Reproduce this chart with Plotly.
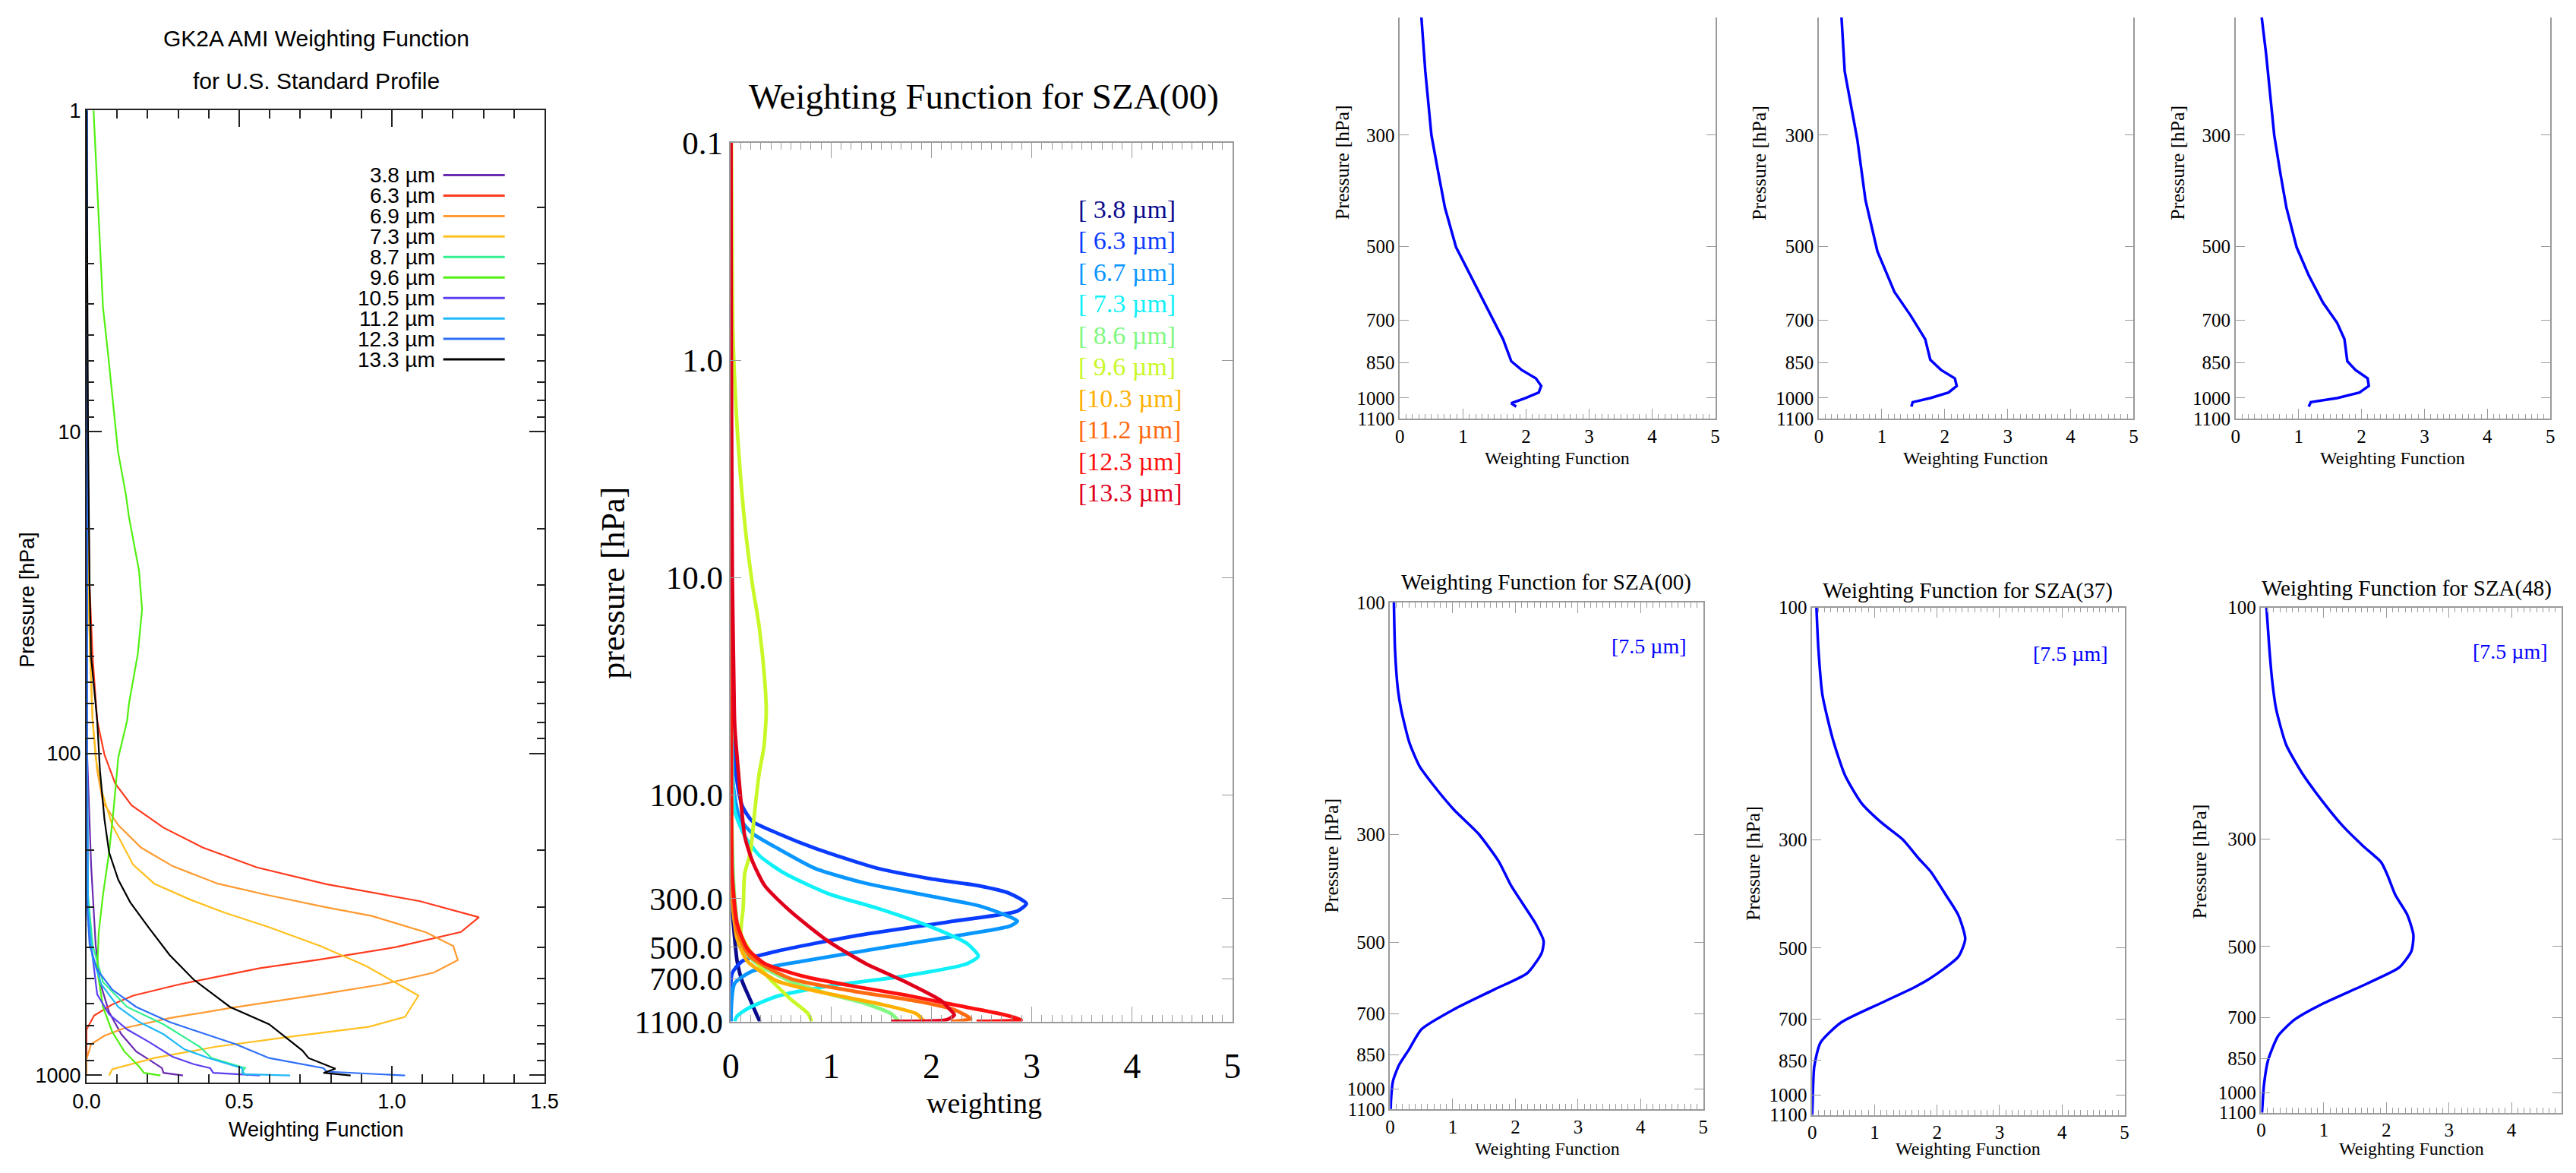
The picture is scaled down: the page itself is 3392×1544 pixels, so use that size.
import math
import plotly.graph_objects as go

W, H = 3392, 1544
SANS = "Liberation Sans Narrow, Arial Narrow, Liberation Sans, Arial, sans-serif"
SERIF = "Liberation Serif, Times New Roman, serif"

# ---------------- Panel A : GK2A AMI weighting functions (U.S. Standard Profile) ----------------
A_LABELS = ["3.8 µm", "6.3 µm", "6.9 µm", "7.3 µm", "8.7 µm", "9.6 µm", "10.5 µm", "11.2 µm", "12.3 µm", "13.3 µm"]
A_COLORS = ["#6a2bb0", "#ff3b1f", "#ff9a30", "#ffc020", "#30f090", "#50f010", "#5a40f0", "#20b8f8", "#2f6ff8", "#000000"]

A_P_038 = [1, 100, 222, 394, 514, 637, 746, 845, 893, 951, 984, 1003]
A_W_038 = [0.002, 0.002, 0.015, 0.030, 0.044, 0.074, 0.114, 0.163, 0.203, 0.247, 0.252, 0.316]
A_P_063 = [1, 10, 30, 50, 79, 101, 124, 145, 170, 196, 226, 255, 288, 323, 359, 400, 437, 465, 523, 566, 603, 653, 721, 1000]
A_W_063 = [0.0, 0.003, 0.01, 0.02, 0.035, 0.059, 0.094, 0.148, 0.252, 0.380, 0.558, 0.786, 1.092, 1.285, 1.226, 1.013,
           0.766, 0.568, 0.301, 0.153, 0.084, 0.025, 0.0, 0.0]
A_P_069 = [1, 10, 30, 50, 79, 113, 142, 167, 196, 224, 254, 275, 301, 320, 360, 397, 439, 480, 523, 561, 619, 665, 714,
           754, 802, 893, 1000]
A_W_069 = [0.0, 0.002, 0.006, 0.012, 0.020, 0.035, 0.054, 0.104, 0.178, 0.282, 0.430, 0.588, 0.786, 0.934, 1.112, 1.201,
           1.216, 1.137, 0.964, 0.766, 0.470, 0.272, 0.124, 0.059, 0.015, 0.0, 0.0]
A_P_073 = [1, 10, 30, 50, 79, 103, 130, 167, 222, 254, 285, 312, 347, 397, 457, 566, 659, 708, 760, 817, 885, 959, 1003]
A_W_073 = [0.0, 0.002, 0.006, 0.012, 0.02, 0.030, 0.049, 0.084, 0.153, 0.222, 0.341, 0.450, 0.598, 0.766, 0.914, 1.087,
           1.043, 0.924, 0.667, 0.420, 0.222, 0.084, 0.074]
A_P_087 = [1, 100, 275, 394, 514, 614, 695, 817, 885, 951, 979, 1003]
A_W_087 = [0.002, 0.002, 0.005, 0.020, 0.054, 0.133, 0.252, 0.371, 0.410, 0.519, 0.509, 0.529]
A_P_096 = [1, 4.1, 5.9, 11.5, 15.7, 18.4, 27, 35.6, 49, 70, 79, 103, 148, 203, 275, 360, 470, 614, 733, 845, 942, 984, 1003]
A_W_096 = [0.023, 0.054, 0.072, 0.103, 0.129, 0.139, 0.172, 0.182, 0.168, 0.139, 0.133, 0.104, 0.089, 0.074, 0.054,
           0.040, 0.035, 0.054, 0.084, 0.124, 0.173, 0.188, 0.242]
A_P_105 = [1, 100, 329, 561, 647, 721, 787, 877, 925, 951, 984, 1003]
A_W_105 = [0.002, 0.002, 0.005, 0.035, 0.074, 0.133, 0.203, 0.282, 0.351, 0.405, 0.415, 0.568]
A_P_112 = [1, 100, 301, 430, 523, 614, 684, 746, 832, 885, 951, 993, 1003]
A_W_112 = [0.002, 0.002, 0.005, 0.020, 0.049, 0.104, 0.173, 0.252, 0.321, 0.400, 0.509, 0.514, 0.667]
A_P_123 = [1, 100, 275, 394, 470, 542, 614, 684, 746, 802, 885, 916, 951, 975, 1003]
A_W_123 = [0.002, 0.002, 0.0, 0.010, 0.035, 0.084, 0.163, 0.272, 0.390, 0.489, 0.598, 0.687, 0.776, 0.786, 1.043]
A_P_133 = [1, 10, 30, 50, 79, 113, 161, 203, 247, 290, 347, 423, 505, 614, 695, 839, 885, 955, 984, 1003]
A_W_133 = [0.0, 0.005, 0.01, 0.015, 0.035, 0.044, 0.059, 0.074, 0.104, 0.143, 0.203, 0.272, 0.351, 0.470, 0.598, 0.707,
           0.727, 0.815, 0.776, 0.865]
A_P = [A_P_038, A_P_063, A_P_069, A_P_073, A_P_087, A_P_096, A_P_105, A_P_112, A_P_123, A_P_133]
A_W = [A_W_038, A_W_063, A_W_069, A_W_073, A_W_087, A_W_096, A_W_105, A_W_112, A_W_123, A_W_133]
A_YTICKS = [1, 10, 100, 1000]

# ---------------- Panel B : Weighting Function for SZA(00), 10 channels ----------------
B_LABELS = ["[ 3.8 µm]", "[ 6.3 µm]", "[ 6.7 µm]", "[ 7.3 µm]", "[ 8.6 µm]", "[ 9.6 µm]",
            "[10.3 µm]", "[11.2 µm]", "[12.3 µm]", "[13.3 µm]"]
B_COLORS = ["#0a0a8c", "#0a3cff", "#0a96ff", "#10f0f8", "#80f880", "#c8f828", "#ffb000", "#ff6a10", "#ff1010", "#e0001c"]
B_P_038 = [0.1, 100, 300, 390, 581, 718, 865, 1040, 1100]
B_W_038 = [0.0, 0.0, 0.005, 0.025, 0.063, 0.113, 0.189, 0.264, 0.290]
B_P_063 = [0.1, 1, 10, 30, 47, 79, 112, 132, 150, 176, 218, 242, 262, 284, 316, 342, 380, 446, 522, 581, 662, 1100]
B_W_063 = [0.0, 0.002, 0.005, 0.01, 0.013, 0.050, 0.113, 0.214, 0.466, 0.843, 1.473, 1.976, 2.480, 2.782, 2.946, 2.857,
           2.228, 1.221, 0.466, 0.113, 0.013, 0.0]
B_P_067 = [0.1, 10, 50, 91, 128, 150, 176, 218, 255, 291, 324, 380, 401, 446, 508, 581, 646, 736, 1100]
B_W_067 = [0.0, 0.002, 0.01, 0.025, 0.088, 0.214, 0.466, 0.843, 1.347, 1.976, 2.480, 2.857, 2.782, 2.228, 1.473, 0.718,
           0.214, 0.038, 0.0]
B_P_073 = [0.1, 10, 60, 118, 154, 191, 230, 284, 333, 401, 482, 551, 597, 681, 757, 841, 962, 1040, 1100]
B_W_073 = [0.0, 0.002, 0.01, 0.038, 0.138, 0.290, 0.541, 0.969, 1.473, 1.976, 2.354, 2.467, 2.354, 1.725, 0.969, 0.466,
           0.164, 0.063, 0.038]
B_P_086 = [0.1, 10, 100, 299, 508, 597, 718, 820, 912, 1014, 1100]
B_W_086 = [0.0, 0.002, 0.005, 0.038, 0.113, 0.264, 0.592, 0.969, 1.347, 1.599, 1.674]
B_P_096 = [0.1, 0.62, 1.0, 2.6, 6.1, 10.8, 17, 30, 42, 60, 79, 104, 118, 186, 230, 329, 437, 508, 662, 864, 1010, 1100]
B_W_096 = [0.005, 0.018, 0.03, 0.078, 0.147, 0.216, 0.284, 0.339, 0.353, 0.330, 0.284, 0.252, 0.239, 0.193, 0.138,
           0.124, 0.101, 0.176, 0.34, 0.59, 0.768, 0.806]
B_P_103 = [0.1, 10, 100, 299, 457, 581, 718, 820, 912, 1014, 1100]
B_W_103 = [0.0, 0.002, 0.005, 0.013, 0.063, 0.164, 0.466, 0.969, 1.473, 1.850, 1.926]
B_P_112 = [0.1, 10, 100, 262, 423, 551, 698, 798, 887, 973, 1069, 1100]
B_W_112 = [0.0, 0.002, 0.005, 0.013, 0.063, 0.189, 0.592, 1.221, 1.850, 2.228, 2.392, 2.2]
B_P_123 = [0.1, 10, 100, 230, 390, 508, 597, 681, 757, 830, 923, 1026, 1081, 1100]
B_W_123 = [0.0, 0.002, 0.005, 0.013, 0.063, 0.164, 0.340, 0.718, 1.221, 1.725, 2.228, 2.732, 2.895, 2.45]
B_P_133 = [0.1, 1, 10, 30, 47, 79, 154, 201, 262, 342, 470, 597, 718, 887, 962, 1026, 1081, 1100]
B_W_133 = [0.0, 0.005, 0.015, 0.03, 0.038, 0.076, 0.138, 0.214, 0.340, 0.592, 0.969, 1.347, 1.725, 2.102, 2.178, 2.228,
           2.153, 1.60]
B_P = [B_P_038, B_P_063, B_P_067, B_P_073, B_P_086, B_P_096, B_P_103, B_P_112, B_P_123, B_P_133]
B_W = [B_W_038, B_W_063, B_W_067, B_W_073, B_W_086, B_W_096, B_W_103, B_W_112, B_W_123, B_W_133]
B_YTICKS = [0.1, 1, 10, 100, 300, 500, 700, 1100]
B_YTEXT = ["0.1", "1.0", "10.0", "100.0", "300.0", "500.0", "700.0", "1100.0"]

# ---------------- Panels C : six single-channel panels ----------------
C_TL_P = [140, 164, 224, 300, 357, 418, 501, 570, 635, 764, 845, 879, 914, 946, 975, 1000, 1024, 1040]
C_TL_W = [0.31, 0.325, 0.403, 0.50, 0.61, 0.714, 0.89, 1.117, 1.312, 1.636, 1.766, 1.929, 2.156, 2.240, 2.201, 1.994,
          1.766, 1.844]
C_TM_P = [140, 164, 224, 306, 404, 511, 615, 686, 764, 839, 879, 914, 946, 975, 1000, 1019, 1040]
C_TM_W = [0.33, 0.346, 0.41, 0.61, 0.74, 0.93, 1.20, 1.46, 1.69, 1.77, 1.94, 2.16, 2.19, 2.06, 1.77, 1.49, 1.47]
C_TR_P = [140, 164, 207, 300, 357, 418, 501, 570, 646, 709, 764, 845, 879, 914, 946, 975, 1000, 1019, 1040]
C_TR_W = [0.37, 0.387, 0.484, 0.613, 0.71, 0.806, 0.968, 1.161, 1.387, 1.613, 1.729, 1.774, 1.903, 2.097, 2.116, 1.968,
          1.613, 1.194, 1.161]
C_BL_P = [98, 125, 151, 166, 194, 217, 238, 267, 299, 341, 382, 457, 497, 526, 578, 624, 686, 754, 828, 893, 963, 1059, 1100]
C_BL_W = [0.059, 0.078, 0.124, 0.176, 0.306, 0.468, 0.696, 1.021, 1.411, 1.736, 1.931, 2.321, 2.451, 2.419, 2.191, 1.671,
          1.021, 0.501, 0.306, 0.143, 0.046, 0.013, 0.01]
C_BM_P = [98, 121, 151, 186, 221, 252, 277, 299, 328, 348, 389, 428, 479, 521, 578, 601, 647, 711, 782, 877, 1059, 1100]
C_BM_W = [0.066, 0.099, 0.164, 0.329, 0.526, 0.789, 1.118, 1.447, 1.711, 1.895, 2.14, 2.34, 2.45, 2.34, 1.88, 1.645,
          1.118, 0.461, 0.132, 0.033, 0.005, 0.0]
C_BR_P = [97, 121, 141, 162, 192, 220, 251, 282, 310, 335, 355, 391, 430, 473, 511, 552, 596, 656, 708, 764, 857, 962, 1100]
C_BR_W = [0.077, 0.129, 0.174, 0.239, 0.400, 0.658, 0.981, 1.303, 1.626, 1.916, 2.013, 2.142, 2.335, 2.432, 2.40, 2.206,
          1.690, 0.981, 0.529, 0.271, 0.110, 0.045, 0.013]
C_TITLES = ["Weighting Function for SZA(00)", "Weighting Function for SZA(37)", "Weighting Function for SZA(48)"]
C_CHANNEL = "[7.5 µm]"
C_YTICKS_TOP = [300, 500, 700, 850, 1000, 1100]
C_YTICKS_BOT = [100, 300, 500, 700, 850, 1000, 1100]


def px(x):
    return x / W


def py(y):
    return 1 - y / H


fig = go.Figure()

# Panel A traces
for lab, col, p, w in zip(A_LABELS, A_COLORS, A_P, A_W):
    fig.add_trace(go.Scatter(x=w, y=p, mode="lines", name=lab, line=dict(color=col, width=2.2),
                             xaxis="x", yaxis="y", showlegend=False))
# Panel B traces
for lab, col, p, w in zip(B_LABELS, B_COLORS, B_P, B_W):
    fig.add_trace(go.Scatter(x=w, y=p, mode="lines", name=lab, line=dict(color=col, width=4.8, shape="spline",
                                                                           smoothing=0.6),
                             xaxis="x2", yaxis="y2", showlegend=False))
# Panels C traces
C_SERIES = [(C_TL_W, C_TL_P, "x3", "y3", "linear"), (C_TM_W, C_TM_P, "x4", "y4", "linear"),
            (C_TR_W, C_TR_P, "x5", "y5", "linear"), (C_BL_W, C_BL_P, "x6", "y6", "spline"),
            (C_BM_W, C_BM_P, "x7", "y7", "spline"), (C_BR_W, C_BR_P, "x8", "y8", "spline")]
for w, p, xa, ya, shp in C_SERIES:
    fig.add_trace(go.Scatter(x=w, y=p, mode="lines", line=dict(color="#0000ff", width=3.5, shape=shp, smoothing=0.6),
                             xaxis=xa, yaxis=ya, showlegend=False))


def base_axis(color, lw):
    return dict(showline=True, linecolor=color, linewidth=lw, mirror="ticks", ticks="inside",
                tickcolor=color, showgrid=False, zeroline=False)


layout_axes = {}
# Panel A axes
ax = base_axis("#222222", 2)
ax.update(domain=[px(96), px(706)], anchor="y", range=[0, 1.5], dtick=0.5, tickformat=".1f", ticklen=22, tickwidth=2,
          minor=dict(ticks="inside", dtick=0.1, ticklen=11, tickcolor="#222222", tickwidth=1.5),
          tickfont=dict(family=SANS, size=27, color="black"))
layout_axes["xaxis"] = ax
ay = base_axis("#222222", 2)
minor_a = [m * 10 ** e for e in range(0, 3) for m in range(2, 10)]
ay.update(domain=[py(1446), py(126)], anchor="x", type="log", range=[math.log10(1055), 0],
          tickvals=A_YTICKS, ticktext=[str(v) for v in A_YTICKS], ticklen=20, tickwidth=2,
          minor=dict(ticks="inside", tickvals=minor_a, ticklen=10, tickcolor="#222222", tickwidth=1.5),
          tickfont=dict(family=SANS, size=27, color="black"))
layout_axes["yaxis"] = ay

# Panel B axes
GRAY = "#9a9a9a"
bx = base_axis(GRAY, 1.5)
bx.update(domain=[px(954), px(1622)], anchor="y2", range=[0, 5], dtick=1, ticklen=20,
          minor=dict(ticks="inside", dtick=0.1, ticklen=9, tickcolor=GRAY), ticklabelstandoff=18,
          tickfont=dict(family=SERIF, size=46, color="black"))
layout_axes["xaxis2"] = bx
by = base_axis(GRAY, 1.5)
by.update(domain=[py(1363), py(170)], anchor="x2", type="log", range=[math.log10(1100) + 1e-4, -1],
          tickvals=B_YTICKS, ticktext=B_YTEXT, ticklen=14, tickfont=dict(family=SERIF, size=43, color="black"))
layout_axes["yaxis2"] = by

# Panels C axes
C_GEOM = [  # (x0, x1, ytop, ybottom, range_top, ticks, xmax, mirror_x)
    (1845, 2265, 0, 545, math.log10(175), C_YTICKS_TOP, 5, False),
    (2403, 2822, 0, 545, math.log10(175), C_YTICKS_TOP, 5, False),
    (2958, 3377, 0, 545, math.log10(175), C_YTICKS_TOP, 5, False),
    (1832, 2249, 794, 1482, 2, C_YTICKS_BOT, 5, True),
    (2394, 2810, 801, 1490, 2, C_YTICKS_BOT, 5, True),
    (2992, 3392, 801, 1487, 2, C_YTICKS_BOT, 4.8, True),
]
for i, (x0, x1, y0, y1, rtop, yt, xmax, mx) in enumerate(C_GEOM):
    n = i + 3
    cx = base_axis(GRAY, 1.5)
    cx.update(domain=[px(x0), min(px(x1), 1.0)], anchor="y%d" % n, range=[0, xmax], dtick=1, ticklen=14,
              minor=dict(ticks="inside", dtick=0.1, ticklen=7, tickcolor=GRAY),
              tickfont=dict(family=SERIF, size=25, color="black"))
    if not mx:
        cx["mirror"] = False
    layout_axes["xaxis%d" % n] = cx
    cy = base_axis(GRAY, 1.5)
    cy.update(domain=[py(y1), py(y0)], anchor="x%d" % n, type="log", range=[math.log10(1100) + 1e-4, rtop],
              tickvals=yt, ticktext=[str(v) for v in yt], ticklen=12,
              tickfont=dict(family=SERIF, size=25, color="black"))
    layout_axes["yaxis%d" % n] = cy

annotations = []


def ann(text, x, y, size, family, color="black", angle=0, xanchor="center", yanchor="middle"):
    annotations.append(dict(text=text, x=px(x), y=py(y), xref="paper", yref="paper", showarrow=False,
                            font=dict(family=family, size=size, color=color), textangle=angle,
                            xanchor=xanchor, yanchor=yanchor))


# Panel A texts
ann("GK2A AMI Weighting Function", 402, 28, 30, SANS)
ann("for U.S. Standard Profile", 402, 86, 30, SANS)
ann("Weighting Function", 402, 1510, 27, SANS)
ann("Pressure [hPa]", 17, 790, 27, SANS, angle=-90)
shapes = []
LEG_X_TEXT, LEG_X0, LEG_X1, LEG_Y0, LEG_DY = 562, 571, 653, 214, 27.8
for i, (lab, col) in enumerate(zip(A_LABELS, A_COLORS)):
    yy = LEG_Y0 + LEG_DY * i
    ann(lab, LEG_X_TEXT, yy, 28, SANS, xanchor="right")
    shapes.append(dict(type="line", xref="paper", yref="paper", x0=px(LEG_X0), x1=px(LEG_X1), y0=py(yy), y1=py(yy),
                       line=dict(color=col, width=3)))

# Panel B texts
ann("Weighting Function for SZA(00)", 1291, 107, 47, SERIF)
ann("weighting", 1291, 1474, 38, SERIF)
ann("pressure [hPa]", 798, 768, 44, SERIF, angle=-90)
for i, (lab, col) in enumerate(zip(B_LABELS, B_COLORS)):
    ann(lab, 1415, 260 + 42.8 * i, 34, SERIF, color=col, xanchor="left")

# Panels C texts
for xc in [1768, 2323, 2880]:
    ann("Pressure [hPa]", xc, 197, 26, SERIF, angle=-90)
for xc in [2055, 2612, 3167]:
    ann("Weighting Function", xc, 598, 24, SERIF)
for t, (xc, yc) in zip(C_TITLES, [(2040, 767), (2601, 778), (3186, 775)]):
    ann(t, xc, yc, 29, SERIF)
for xc, yc in [(2177, 853), (2738, 864), (3324, 861)]:
    ann(C_CHANNEL, xc, yc, 28, SERIF, color="#0000ff")
for xc, yc in [(1754, 1138), (2315, 1149), (2910, 1146)]:
    ann("Pressure [hPa]", xc, yc, 26, SERIF, angle=-90)
for xc in [2041, 2602, 3192]:
    ann("Weighting Function", xc, 1536, 24, SERIF)

fig.update_layout(width=W, height=H, margin=dict(l=0, r=0, t=0, b=0), paper_bgcolor="white", plot_bgcolor="white",
                  showlegend=False, annotations=annotations, shapes=shapes, **layout_axes)

fig.write_html("out.html", post_script="document.body.style.margin='0';document.body.style.overflow='hidden';",
               config={"displayModeBar": False})
